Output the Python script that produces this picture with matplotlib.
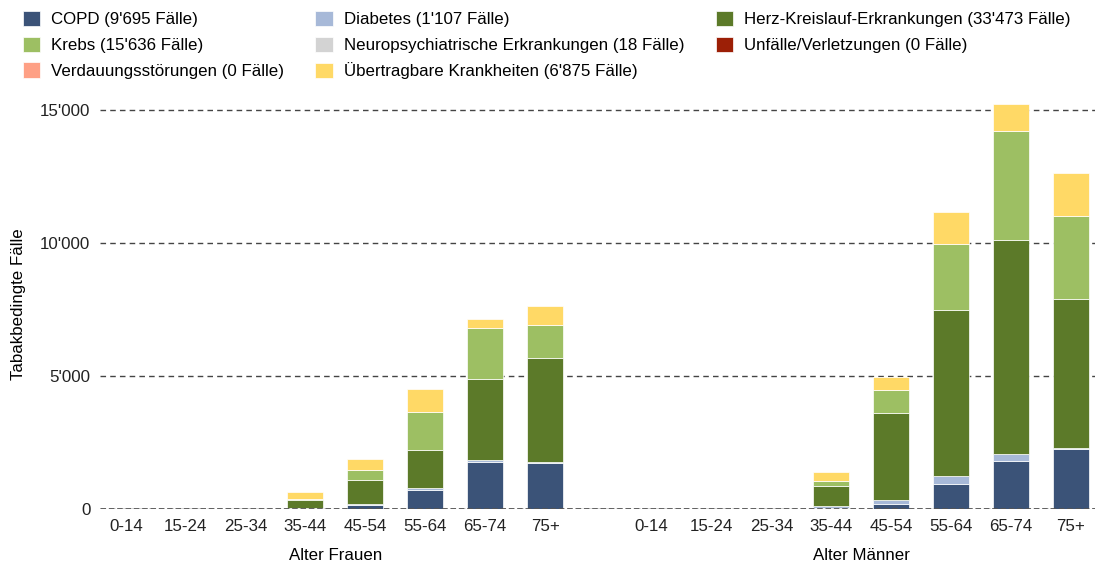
import numpy as np
import matplotlib
matplotlib.use("Agg")
import matplotlib.pyplot as plt
from matplotlib.ticker import FuncFormatter

plt.rcParams['font.family'] = ['Liberation Sans', 'DejaVu Sans']

FS = 12.2

# age groups, same for both sexes
ages = ['0-14', '15-24', '25-34', '35-44', '45-54', '55-64', '65-74', '75+']

# values (women first, then men), stacked bottom -> top
copd_f = [0, 0, 0, 20, 140, 726, 1780, 1730]
copd_m = [0, 0, 0, 50, 175, 927, 1817, 2255]
diab_f = [0, 0, 0, 10, 50, 63, 60, 25]
diab_m = [0, 0, 0, 50, 163, 314, 251, 26]
herz_f = [0, 0, 0, 300, 900, 1429, 3057, 3935]
herz_m = [0, 0, 0, 777, 3284, 6240, 8045, 5614]
krebs_f = [0, 0, 0, 50, 376, 1417, 1894, 1203]
krebs_m = [0, 0, 0, 188, 840, 2469, 4071, 3120]
neuro_f = [0, 0, 0, 0, 2, 4, 3, 2]
neuro_m = [0, 0, 0, 0, 1, 2, 2, 2]
unfall_f = [0, 0, 0, 0, 0, 0, 0, 0]
unfall_m = [0, 0, 0, 0, 0, 0, 0, 0]
verd_f = [0, 0, 0, 0, 0, 0, 0, 0]
verd_m = [0, 0, 0, 0, 0, 0, 0, 0]
uebertr_f = [15, 0, 0, 270, 414, 876, 350, 740]
uebertr_m = [15, 0, 0, 313, 513, 1215, 1015, 1604]

series = [
    ("COPD (9'695 Fälle)", copd_f, copd_m, '#3b5378'),
    ("Diabetes (1'107 Fälle)", diab_f, diab_m, '#a7b9d8'),
    ("Herz-Kreislauf-Erkrankungen (33'473 Fälle)", herz_f, herz_m, '#5c7a29'),
    ("Krebs (15'636 Fälle)", krebs_f, krebs_m, '#9dbf63'),
    ("Neuropsychiatrische Erkrankungen (18 Fälle)", neuro_f, neuro_m, '#d3d3d3'),
    ("Unfälle/Verletzungen (0 Fälle)", unfall_f, unfall_m, '#9c1f06'),
    ("Verdauungsstörungen (0 Fälle)", verd_f, verd_m, '#fea085'),
    ("Übertragbare Krankheiten (6'875 Fälle)", uebertr_f, uebertr_m, '#ffd966'),
]

fig = plt.figure(figsize=(10.99, 5.66), dpi=100)
ax = fig.add_axes([100 / 1099, 57 / 566, 995 / 1099, 410 / 566])

x_f = np.arange(len(ages))
x_m = x_f + 8.78
x = np.concatenate([x_f, x_m])

bottom = np.zeros(len(x))
handles = {}
for name, vf, vm, col in series:
    vals = np.array(vf + vm, dtype=float)
    b = ax.bar(x, vals, 0.6, bottom=bottom, color=col, edgecolor='white',
               linewidth=0.5, label=name, zorder=3)
    handles[name] = b
    bottom += vals

ax.set_xlim(-0.43, 16.18)
ax.set_ylim(0, 15400)
ax.set_yticks([0, 5000, 10000, 15000])
ax.yaxis.set_major_formatter(FuncFormatter(lambda v, p: f"{int(v):,}".replace(',', "'")))
ax.yaxis.grid(True, linestyle=(0, (4, 3)), color='#444444', linewidth=1, zorder=0)
ax.axhline(0, color='#555555', linewidth=2, linestyle=(0, (2, 1)), zorder=4)
for s in ax.spines.values():
    s.set_visible(False)
ax.tick_params(length=0, labelsize=FS, colors='#222222')
ax.tick_params(axis='y', pad=7)
ax.tick_params(axis='x', pad=7)
ax.set_xticks(x)
ax.set_xticklabels(ages + ages)
ax.set_ylabel('Tabakbedingte Fälle', fontsize=FS)
ax.yaxis.set_label_coords(-0.0744, 0.5)

ax.text(np.mean(x_f), -0.113, 'Alter Frauen', transform=ax.get_xaxis_transform(),
        ha='center', va='center', fontsize=FS)
ax.text(np.mean(x_m), -0.113, 'Alter Männer', transform=ax.get_xaxis_transform(),
        ha='center', va='center', fontsize=FS)

# legend fills column by column
order = [0, 3, 6, 1, 4, 7, 2, 5]
names = [series[i][0] for i in order]
fig.legend([handles[n] for n in names], names, ncol=3, loc='upper left',
           bbox_to_anchor=(16 / 1099, 1 - 4 / 566), frameon=False, fontsize=FS,
           handlelength=1.04, handleheight=1.04, handletextpad=0.65,
           columnspacing=1.83, labelspacing=0.54, borderaxespad=0)

fig.savefig('out.png', dpi=100)
